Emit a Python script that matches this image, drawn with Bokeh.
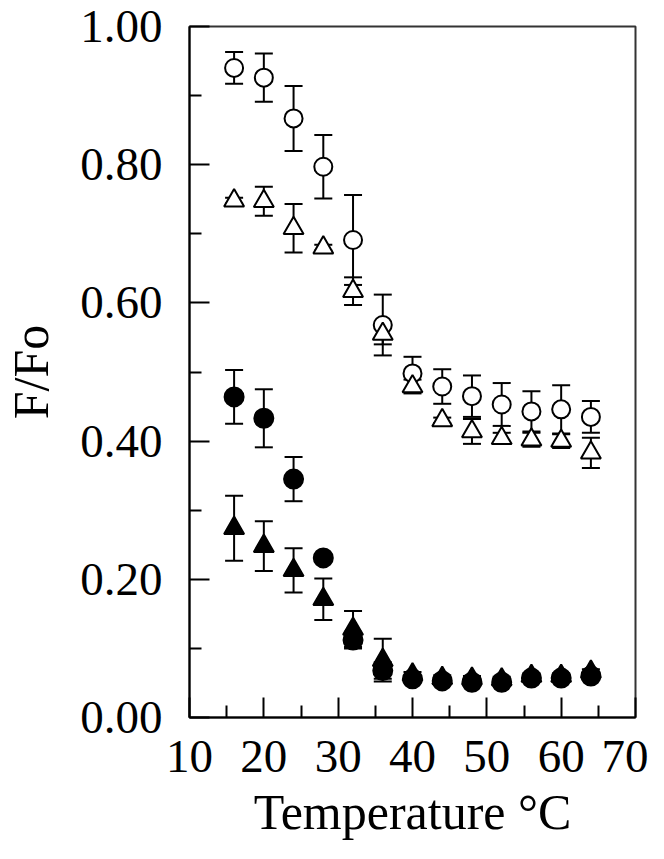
from bokeh.plotting import figure
from bokeh.models import (ColumnDataSource, Whisker, TeeHead, FixedTicker,
                          PrintfTickFormatter, Range1d)
from bokeh.embed import file_html
from bokeh.resources import INLINE

# ---- data ----
temps = [16, 20, 24, 28, 32, 36, 40, 44, 48, 52, 56, 60, 64]

open_circle = [0.940, 0.926, 0.867, 0.797, 0.691, 0.568, 0.498, 0.479, 0.465, 0.453, 0.443, 0.446, 0.435]
open_circle_err = [0.023, 0.035, 0.047, 0.046, 0.065, 0.044, 0.024, 0.025, 0.030, 0.031, 0.029, 0.035, 0.023]

open_tri = [0.748, 0.747, 0.708, 0.680, 0.617, 0.555, 0.479, 0.430, 0.414, 0.404, 0.402, 0.400, 0.383]
open_tri_err = [0.004, 0.021, 0.035, 0.004, 0.020, 0.015, 0.010, 0.004, 0.018, 0.008, 0.010, 0.010, 0.022]

filled_circle = [0.464, 0.433, 0.345, 0.231, 0.112, 0.068, 0.056, 0.053, 0.051, 0.051, 0.057, 0.057, 0.060]
filled_circle_err = [0.039, 0.042, 0.032, 0.004, 0.012, 0.012, 0.004, 0.004, 0.004, 0.004, 0.004, 0.004, 0.004]

filled_tri = [0.274, 0.248, 0.213, 0.171, 0.128, 0.083, 0.062, 0.057, 0.056, 0.055, 0.060, 0.060, 0.066]
filled_tri_err = [0.047, 0.036, 0.032, 0.030, 0.026, 0.031, 0.004, 0.004, 0.004, 0.004, 0.004, 0.004, 0.004]

x_major = [10, 20, 30, 40, 50, 60, 70]
x_minor = [15, 25, 35, 45, 55, 65]
y_major = [0.0, 0.2, 0.4, 0.6, 0.8, 1.0]
y_minor = [0.1, 0.3, 0.5, 0.7, 0.9]

FONT = "Liberation Serif"

p = figure(width=648, height=843, output_backend="svg", toolbar_location=None,
           x_range=Range1d(10, 70), y_range=Range1d(0, 1.0),
           min_border_left=184, min_border_right=13, min_border_top=26,
           min_border_bottom=126)

p.xgrid.visible = False
p.ygrid.visible = False
p.outline_line_color = "#333333"
p.outline_line_width = 2
p.background_fill_color = "white"
p.border_fill_color = "white"

for ax in (p.xaxis[0], p.yaxis[0]):
    ax.axis_line_color = "black"
    ax.axis_line_width = 2
    ax.major_tick_line_width = 2
    ax.minor_tick_line_width = 2
    ax.major_tick_line_color = "black"
    ax.minor_tick_line_color = "black"
    ax.major_tick_out = 0
    ax.minor_tick_out = 0
    ax.major_tick_in = 20
    ax.minor_tick_in = 12
    ax.major_label_text_font = FONT
    ax.major_label_text_font_size = "47px"
    ax.major_label_text_color = "black"
    ax.axis_label_text_font = FONT
    ax.axis_label_text_font_size = "50px"
    ax.axis_label_text_font_style = "normal"
    ax.axis_label_text_color = "black"

p.xaxis.ticker = FixedTicker(ticks=x_major, minor_ticks=x_minor)
p.yaxis.ticker = FixedTicker(ticks=y_major, minor_ticks=y_minor)
p.yaxis.formatter = PrintfTickFormatter(format="%.2f")
p.xaxis.axis_label = "Temperature °C"
p.yaxis.axis_label = "F/Fo"
p.xaxis.major_label_standoff = 23
p.yaxis.major_label_standoff = 27
p.xaxis.axis_label_standoff = 9
p.yaxis.axis_label_standoff = 18


def add_series(vals, errs, marker, filled, size):
    src = ColumnDataSource(dict(
        x=temps, y=vals,
        upper=[v + e for v, e in zip(vals, errs)],
        lower=[v - e for v, e in zip(vals, errs)],
    ))
    w = Whisker(source=src, base="x", upper="upper", lower="lower",
                line_color="black", line_width=2, level="underlay",
                upper_head=TeeHead(size=18, line_width=2, line_color="black"),
                lower_head=TeeHead(size=18, line_width=2, line_color="black"))
    p.add_layout(w)
    p.scatter("x", "y", source=src, marker=marker, size=size,
              fill_color="black" if filled else "white",
              line_color="black", line_width=2)


add_series(open_circle, open_circle_err, "circle", False, 18)
add_series(open_tri, open_tri_err, "triangle", False, 20)
add_series(filled_circle, filled_circle_err, "circle", True, 19)
add_series(filled_tri, filled_tri_err, "triangle", True, 20)

open("out.html", "w").write(file_html(p, INLINE))
